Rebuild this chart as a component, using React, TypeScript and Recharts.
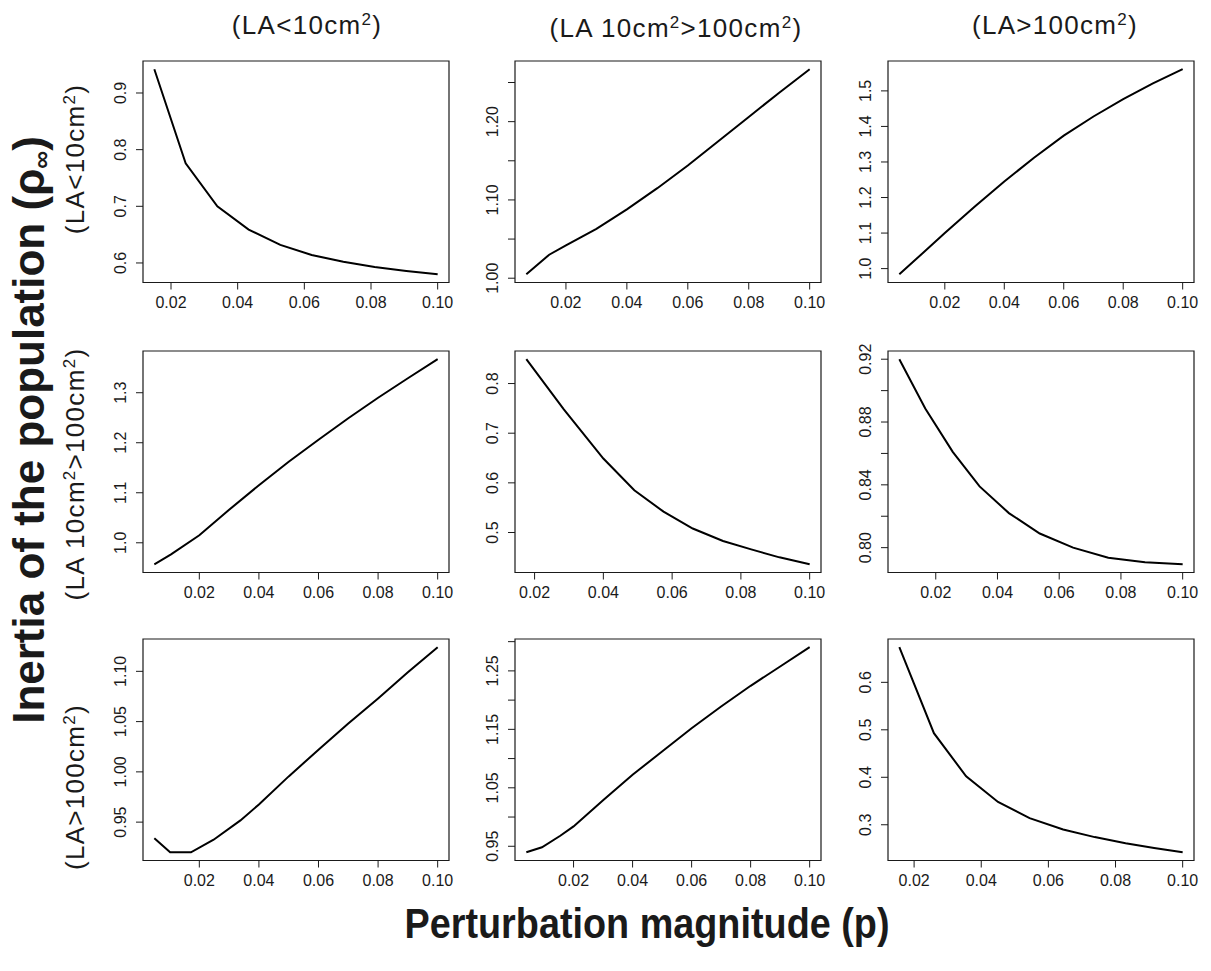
import { LineChart, Line, XAxis, YAxis, ReferenceArea } from "recharts";

// shared x axis
const X_TICKS = [0.02, 0.04, 0.06, 0.08, 0.1];
const X_LABELS = ["0.02", "0.04", "0.06", "0.08", "0.10"];

// row 1
const P1_X = [0.015, 0.0244, 0.0339, 0.0433, 0.0528, 0.0622, 0.0717, 0.0811, 0.0906, 0.1];
const P1_Y = [0.942, 0.776, 0.7, 0.659, 0.632, 0.614, 0.602, 0.593, 0.586, 0.58];
const P1_Y_TICKS = [0.6, 0.7, 0.8, 0.9];
const P1_Y_LABELS = ["0.6", "0.7", "0.8", "0.9"];

const P2_X = [0.007, 0.0145, 0.02, 0.03, 0.04, 0.05, 0.06, 0.07, 0.08, 0.09, 0.1];
const P2_Y = [1.005, 1.03, 1.042, 1.063, 1.088, 1.115, 1.144, 1.175, 1.206, 1.237, 1.267];
const P2_Y_TICKS = [1.0, 1.05, 1.1, 1.15, 1.2, 1.25];
const P2_Y_LABELS = ["1.00", "", "1.10", "", "1.20", ""];

const P3_X = [0.0047, 0.01, 0.02, 0.03, 0.04, 0.05, 0.06, 0.07, 0.08, 0.09, 0.1];
const P3_Y = [0.984, 1.024, 1.1, 1.174, 1.245, 1.312, 1.374, 1.428, 1.477, 1.521, 1.561];
const P3_Y_TICKS = [1.0, 1.1, 1.2, 1.3, 1.4, 1.5];
const P3_Y_LABELS = ["1.0", "1.1", "1.2", "1.3", "1.4", "1.5"];

// row 2
const P4_X = [0.0049, 0.0105, 0.02, 0.03, 0.04, 0.05, 0.06, 0.07, 0.08, 0.09, 0.1];
const P4_Y = [0.957, 0.977, 1.015, 1.066, 1.115, 1.162, 1.206, 1.249, 1.29, 1.329, 1.367];
const P4_Y_TICKS = [1.0, 1.1, 1.2, 1.3];
const P4_Y_LABELS = ["1.0", "1.1", "1.2", "1.3"];

const P5_X = [0.0176, 0.0285, 0.04, 0.049, 0.0575, 0.066, 0.0748, 0.083, 0.0912, 0.1];
const P5_Y = [0.849, 0.748, 0.649, 0.585, 0.542, 0.508, 0.483, 0.466, 0.45, 0.436];
const P5_Y_TICKS = [0.5, 0.6, 0.7, 0.8];
const P5_Y_LABELS = ["0.5", "0.6", "0.7", "0.8"];

const P6_X = [0.0082, 0.0166, 0.0255, 0.0342, 0.0437, 0.0537, 0.0645, 0.0759, 0.0878, 0.1];
const P6_Y = [0.92, 0.8886, 0.861, 0.839, 0.822, 0.809, 0.8, 0.7936, 0.7907, 0.7894];
const P6_Y_TICKS = [0.8, 0.82, 0.84, 0.86, 0.88, 0.9, 0.92];
const P6_Y_LABELS = ["0.80", "", "0.84", "", "0.88", "", "0.92"];

// row 3
const P7_X = [0.0049, 0.0102, 0.0172, 0.0248, 0.0338, 0.04, 0.05, 0.06, 0.07, 0.08, 0.09, 0.1];
const P7_Y = [0.934, 0.92, 0.92, 0.9325, 0.9517, 0.9676, 0.9955, 1.022, 1.048, 1.073, 1.099, 1.124];
const P7_Y_TICKS = [0.95, 1.0, 1.05, 1.1];
const P7_Y_LABELS = ["0.95", "1.00", "1.05", "1.10"];

const P8_X = [0.004, 0.0093, 0.0155, 0.02, 0.03, 0.04, 0.05, 0.06, 0.07, 0.08, 0.09, 0.1];
const P8_Y = [0.9397, 0.9483, 0.968, 0.984, 1.0286, 1.0724, 1.112, 1.152, 1.189, 1.2245, 1.2575, 1.2905];
const P8_Y_TICKS = [0.95, 1.0, 1.05, 1.1, 1.15, 1.2, 1.25, 1.3];
const P8_Y_LABELS = ["0.95", "", "1.05", "", "1.15", "", "1.25", ""];

const P9_X = [0.0156, 0.0259, 0.0355, 0.045, 0.0544, 0.0644, 0.0738, 0.083, 0.0915, 0.1];
const P9_Y = [0.674, 0.493, 0.402, 0.348, 0.314, 0.29, 0.274, 0.261, 0.251, 0.242];
const P9_Y_TICKS = [0.3, 0.4, 0.5, 0.6];
const P9_Y_LABELS = ["0.3", "0.4", "0.5", "0.6"];

const PANELS = [
  { xs: P1_X, ys: P1_Y, yTicks: P1_Y_TICKS, yLabels: P1_Y_LABELS },
  { xs: P2_X, ys: P2_Y, yTicks: P2_Y_TICKS, yLabels: P2_Y_LABELS },
  { xs: P3_X, ys: P3_Y, yTicks: P3_Y_TICKS, yLabels: P3_Y_LABELS },
  { xs: P4_X, ys: P4_Y, yTicks: P4_Y_TICKS, yLabels: P4_Y_LABELS },
  { xs: P5_X, ys: P5_Y, yTicks: P5_Y_TICKS, yLabels: P5_Y_LABELS },
  { xs: P6_X, ys: P6_Y, yTicks: P6_Y_TICKS, yLabels: P6_Y_LABELS },
  { xs: P7_X, ys: P7_Y, yTicks: P7_Y_TICKS, yLabels: P7_Y_LABELS },
  { xs: P8_X, ys: P8_Y, yTicks: P8_Y_TICKS, yLabels: P8_Y_LABELS },
  { xs: P9_X, ys: P9_Y, yTicks: P9_Y_TICKS, yLabels: P9_Y_LABELS },
];

const FONT = '"Liberation Sans", Arial, Helvetica, sans-serif';
const INK = "#1a1a1a";

// plot-box geometry (R par layout)
const COL_LEFT = [142.7, 515.3, 888.3];
const ROW_TOP = [61.3, 350.7, 639.3];
const BOX_W = 306;
const BOX_H = 221.5;
const ML = 60;
const MT = 10;
const MR = 10;
const MB = 45;
const TICK_FS = 16;
const HEAD_FS = 26;
const SUP_FS = 17;
const SUP_DY = 9;

// R pads the data range by 4% on each side
function pad(v: number[]): [number, number] {
  const lo = Math.min(...v);
  const hi = Math.max(...v);
  const r = hi - lo;
  return [lo - 0.04 * r, hi + 0.04 * r];
}

function XTick(props: any) {
  const { x, index } = props;
  return (
    <text x={x} y={MT + BOX_H + 25.5} textAnchor="middle" fontSize={TICK_FS} fill={INK} fontFamily={FONT}>
      {X_LABELS[index]}
    </text>
  );
}

function makeYTick(labels: string[]) {
  return function YTick(props: any) {
    const { y, index } = props;
    const bx = ML - 16.5;
    return (
      <text
        x={bx}
        y={y}
        transform={`rotate(-90, ${bx}, ${y})`}
        textAnchor="middle"
        fontSize={TICK_FS}
        fill={INK}
        fontFamily={FONT}
      >
        {labels[index]}
      </text>
    );
  };
}

function Panel({ p, left, top }: { p: (typeof PANELS)[number]; left: number; top: number }) {
  const data = p.xs.map((x, i) => ({ x, y: p.ys[i] }));
  const xd = pad(p.xs);
  const yd = pad(p.ys);
  const YTick = makeYTick(p.yLabels);
  return (
    <div style={{ position: "absolute", left: left - ML, top: top - MT }}>
      <LineChart
        width={BOX_W + ML + MR}
        height={BOX_H + MT + MB}
        data={data}
        margin={{ top: MT, right: MR, bottom: 0, left: 0 }}
      >
        <XAxis
          type="number"
          dataKey="x"
          domain={xd}
          allowDataOverflow
          ticks={X_TICKS}
          interval={0}
          height={MB}
          tickSize={7}
          axisLine={false}
          stroke={INK}
          tickLine={{ stroke: INK, strokeWidth: 1 }}
          tick={<XTick />}
        />
        <YAxis
          type="number"
          domain={yd}
          allowDataOverflow
          ticks={p.yTicks}
          interval={0}
          width={ML}
          tickSize={7}
          axisLine={false}
          stroke={INK}
          tickLine={{ stroke: INK, strokeWidth: 1 }}
          tick={<YTick />}
        />
        <ReferenceArea
          x1={xd[0]}
          x2={xd[1]}
          y1={yd[0]}
          y2={yd[1]}
          fill="none"
          stroke={INK}
          strokeWidth={1.2}
          ifOverflow="visible"
        />
        <Line
          type="linear"
          dataKey="y"
          stroke="#000"
          strokeWidth={2}
          dot={false}
          isAnimationActive={false}
        />
      </LineChart>
    </div>
  );
}

// "(LA<10cm²)" style header; parts alternate plain / superscript
function Header({ parts, transform, x, y }: { parts: string[]; transform?: string; x?: number; y?: number }) {
  return (
    <text
      x={x}
      y={y}
      transform={transform}
      textAnchor="middle"
      fontSize={HEAD_FS}
      letterSpacing={1.3}
    >
      {parts.map((s, i) => {
        if (i % 2 === 1) {
          return (
            <tspan key={i} fontSize={SUP_FS} dy={-SUP_DY}>
              {s}
            </tspan>
          );
        }
        return (
          <tspan key={i} dy={i === 0 ? 0 : SUP_DY}>
            {s}
          </tspan>
        );
      })}
    </text>
  );
}

const HEAD_1 = ["(LA<10cm", "2", ")"];
const HEAD_2 = ["(LA 10cm", "2", ">100cm", "2", ")"];
const HEAD_3 = ["(LA>100cm", "2", ")"];

export default function App() {
  return (
    <div
      style={{
        position: "absolute",
        left: 0,
        top: 0,
        width: 1211,
        height: 971,
        background: "#fff",
        fontFamily: FONT,
        overflow: "hidden",
      }}
    >
      {PANELS.map((p, i) => (
        <Panel key={i} p={p} left={COL_LEFT[i % 3]} top={ROW_TOP[Math.floor(i / 3)]} />
      ))}
      <svg
        width={1211}
        height={971}
        style={{ position: "absolute", left: 0, top: 0, pointerEvents: "none" }}
        fontFamily={FONT}
        fill={INK}
      >
        {/* column headers */}
        <Header parts={HEAD_1} x={307} y={34} />
        <Header parts={HEAD_2} x={676} y={37} />
        <Header parts={HEAD_3} x={1055} y={34} />
        {/* row headers */}
        <Header parts={HEAD_1} transform="translate(84,159) rotate(-90)" />
        <Header parts={HEAD_2} transform="translate(84,474) rotate(-90)" />
        <Header parts={HEAD_3} transform="translate(84,787) rotate(-90)" />
        {/* outer axis titles */}
        <text
          transform="translate(44,430) rotate(-90)"
          textAnchor="middle"
          fontSize={44}
          fontWeight="bold"
        >
          Inertia of the population (ρ<tspan fontSize={25} dy={6}>∞</tspan>
          <tspan dy={-6}>)</tspan>
        </text>
        <text
          x={647}
          y={938}
          textAnchor="middle"
          fontSize={42}
          fontWeight="bold"
          textLength={485}
          lengthAdjust="spacingAndGlyphs"
        >
          Perturbation magnitude (p)
        </text>
      </svg>
    </div>
  );
}
